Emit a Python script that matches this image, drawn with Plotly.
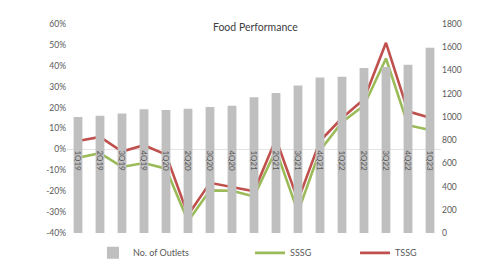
import plotly.graph_objects as go

quarters = ["1Q19", "2Q19", "3Q19", "4Q19", "1Q20", "2Q20", "3Q20", "4Q20",
            "1Q21", "2Q21", "3Q21", "4Q21", "1Q22", "2Q22", "3Q22", "4Q22", "1Q23"]
outlets = [1000, 1010, 1030, 1065, 1060, 1070, 1085, 1095, 1170, 1205, 1270,
           1340, 1345, 1420, 1430, 1450, 1595]
sssg = [-4, -1.8, -8.4, -6.5, -9.2, -34.4, -19.6, -19.8, -22.5, -0.3, -30,
        -0.5, 13, 21, 43.5, 11.6, 9.3]
tssg = [4, 6, -1, 2, -2.5, -31.4, -16, -18, -20, 5, -24.4, 4, 15, 24, 51,
        18.2, 15.2]
left_ticks = [-40, -30, -20, -10, 0, 10, 20, 30, 40, 50, 60]
left_labels = [f"{v}%" for v in left_ticks]
right_ticks = [0, 200, 400, 600, 800, 1000, 1200, 1400, 1600, 1800]

FONT = "Lato"
TXT = "#595959"

fig = go.Figure()
fig.add_trace(go.Bar(x=quarters, y=outlets, name="No. of Outlets",
                     marker=dict(color="#bfbfbf", line=dict(width=0)),
                     yaxis="y2", legend="legend", showlegend=True))
fig.add_trace(go.Scatter(x=quarters, y=sssg, name="SSSG", mode="lines",
                         line=dict(color="#9bbb59", width=2.6),
                         legend="legend2"))
fig.add_trace(go.Scatter(x=quarters, y=tssg, name="TSSG", mode="lines",
                         line=dict(color="#c0504d", width=2.6),
                         legend="legend3"))

leg_common = dict(orientation="h", yanchor="middle", y=-0.095,
                  xanchor="left", bgcolor="rgba(0,0,0,0)",
                  font=dict(family=FONT, size=9, color=TXT),
                  itemwidth=30)

fig.update_layout(
    width=485, height=271,
    showlegend=True,
    margin=dict(l=59, r=52, t=16, b=30),
    paper_bgcolor="white", plot_bgcolor="white",
    title=dict(text="Food Performance", x=0.51, xanchor="center",
               y=0.93, yanchor="middle",
               font=dict(family=FONT, size=10.5, color="#404040")),
    bargap=0.6,
    xaxis=dict(type="category", anchor="free", position=0.4,
               tickangle=90, showline=False, showgrid=False,
               ticks="", tickfont=dict(family=FONT, size=8, color=TXT)),
    yaxis=dict(range=[-40, 60], tickvals=left_ticks, ticktext=left_labels,
               showgrid=False, zeroline=True, zerolinecolor="#e3e3e3",
               zerolinewidth=1, showline=False,
               tickfont=dict(family=FONT, size=8.5, color=TXT)),
    yaxis2=dict(range=[0, 1800], tickvals=right_ticks, overlaying="y",
                side="right", showgrid=False, zeroline=False,
                tickfont=dict(family=FONT, size=8.5, color=TXT)),
    legend=dict(x=(113 - 59) / 374 - 0.075, **leg_common),
    legend2=dict(x=(257 - 59) / 374 - 0.04, **leg_common),
    legend3=dict(x=(362 - 59) / 374 - 0.04, **leg_common),
)

fig.write_html("out.html")
